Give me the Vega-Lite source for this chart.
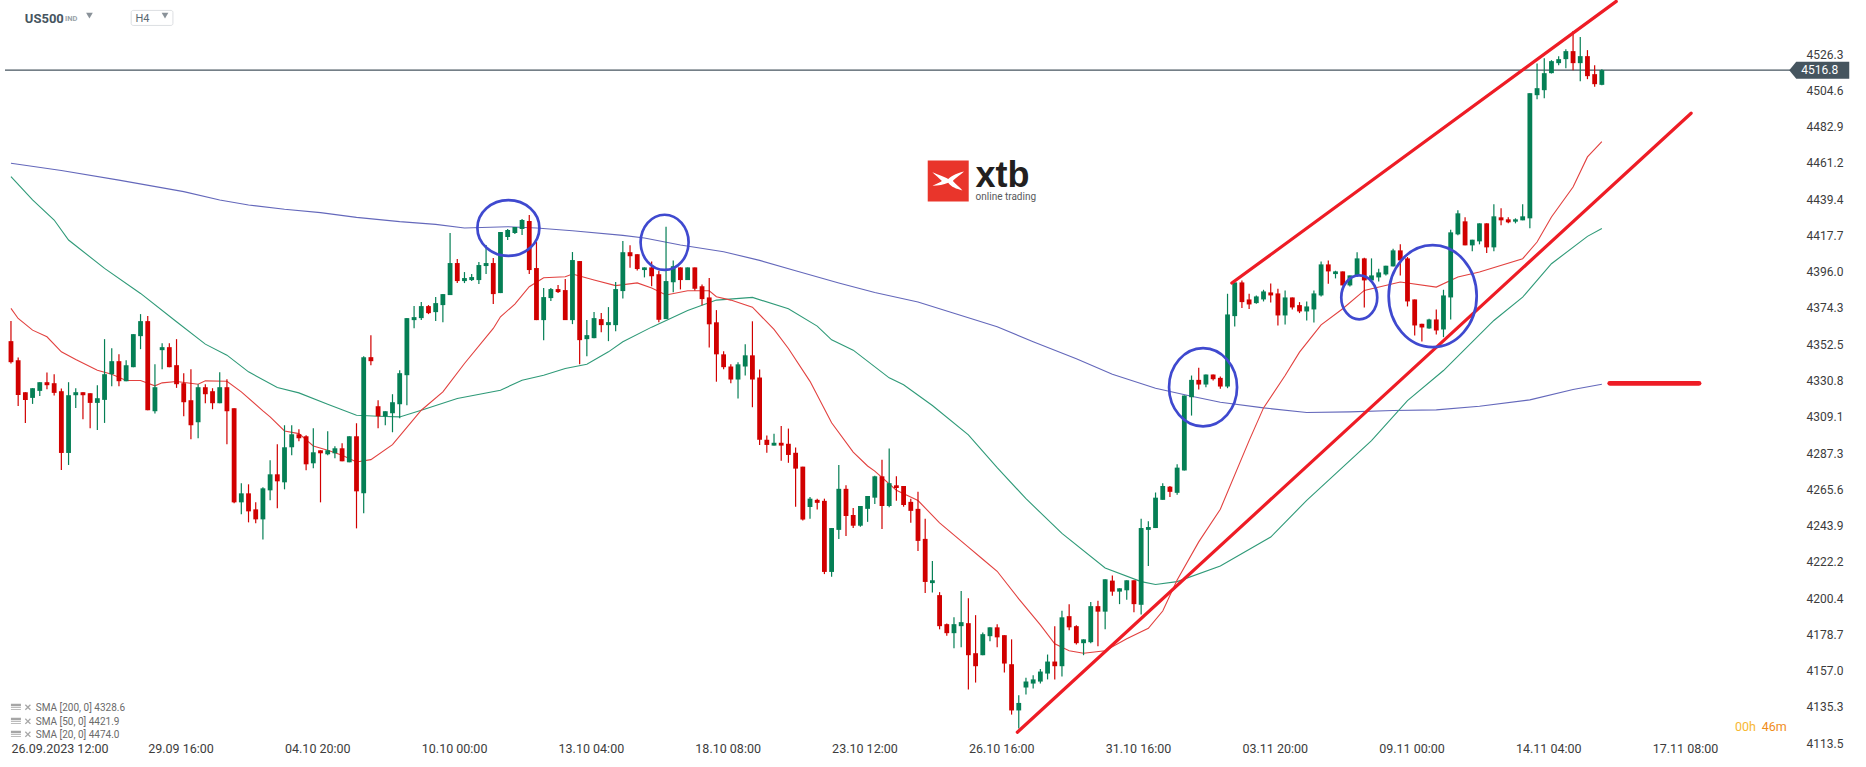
{
"$schema":"https://vega.github.io/schema/vega-lite/v6.json",
"width":1866,"height":767,"padding":0,"autosize":"none","background":"white",
"config":{"view":{"stroke":null},"text":{"font":"Roboto"}},
"datasets":{
"candles":[
{"i":0,"o":4354.4,"h":4366.4,"l":4341,"c":4341.8},{"i":1,"o":4343,"h":4344.6,"l":4315.6,"c":4322.2},{"i":2,"o":4323.8,"h":4323.8,"l":4305.4,"c":4319.2},{"i":3,"o":4320.4,"h":4326.2,"l":4316.8,"c":4326.2},{"i":4,"o":4324.6,"h":4329.8,"l":4321.6,"c":4329.8},{"i":5,"o":4329.8,"h":4335.6,"l":4325.6,"c":4328},{"i":6,"o":4329.2,"h":4334.6,"l":4321.8,"c":4323.4},{"i":7,"o":4324.4,"h":4326,"l":4277.2,"c":4287.4},{"i":8,"o":4287.4,"h":4329.8,"l":4280.2,"c":4322},{"i":9,"o":4322,"h":4326.2,"l":4314.4,"c":4323.8},
{"i":10,"o":4323.8,"h":4323.8,"l":4307.6,"c":4322},{"i":11,"o":4323.2,"h":4323.2,"l":4302.2,"c":4317.4},{"i":12,"o":4317.4,"h":4328,"l":4301.2,"c":4320.2},{"i":13,"o":4319.2,"h":4355.6,"l":4305.4,"c":4334.6},{"i":14,"o":4334.6,"h":4350.2,"l":4327.4,"c":4342.4},{"i":15,"o":4342.4,"h":4346.6,"l":4327.4,"c":4330.4},{"i":16,"o":4330.4,"h":4343,"l":4330.4,"c":4340},{"i":17,"o":4338.8,"h":4358.6,"l":4338.8,"c":4358.6},{"i":18,"o":4357.4,"h":4370.6,"l":4349.6,"c":4366.4},{"i":19,"o":4366.4,"h":4369.4,"l":4313,"c":4313},
{"i":20,"o":4312.4,"h":4340.6,"l":4311,"c":4326.8},{"i":21,"o":4349,"h":4353.2,"l":4337.6,"c":4350.8},{"i":22,"o":4350.8,"h":4353.2,"l":4338.8,"c":4338.8},{"i":23,"o":4340,"h":4355.6,"l":4326.4,"c":4328.6},{"i":24,"o":4329.2,"h":4335.2,"l":4309.4,"c":4317.8},{"i":25,"o":4319,"h":4337.6,"l":4295.6,"c":4304},{"i":26,"o":4305.8,"h":4328.6,"l":4296.2,"c":4326.8},{"i":27,"o":4326.8,"h":4328.6,"l":4317.2,"c":4322.6},{"i":28,"o":4324.4,"h":4326.2,"l":4313.6,"c":4317.2},{"i":29,"o":4317.2,"h":4335.8,"l":4317.2,"c":4326.8},
{"i":30,"o":4326.8,"h":4331.6,"l":4292.6,"c":4312.4},{"i":31,"o":4314.2,"h":4314.2,"l":4257.2,"c":4257.8},{"i":32,"o":4257.8,"h":4269.2,"l":4250.6,"c":4263.2},{"i":33,"o":4263.2,"h":4268.6,"l":4245.8,"c":4252.4},{"i":34,"o":4253.6,"h":4257.8,"l":4245.2,"c":4247.6},{"i":35,"o":4247.6,"h":4266.8,"l":4235.6,"c":4266.2},{"i":36,"o":4265,"h":4283,"l":4259,"c":4274.6},{"i":37,"o":4274.6,"h":4292.6,"l":4254.2,"c":4270.4},{"i":38,"o":4269.8,"h":4304,"l":4265.6,"c":4290.8},{"i":39,"o":4290.8,"h":4304,"l":4286,"c":4298.6},
{"i":40,"o":4298.6,"h":4301.6,"l":4294.4,"c":4296.2},{"i":41,"o":4297.4,"h":4298,"l":4277,"c":4280.6},{"i":42,"o":4281.2,"h":4302.2,"l":4278.2,"c":4287.8},{"i":43,"o":4289,"h":4289,"l":4257.8,"c":4287.2},{"i":44,"o":4286.6,"h":4300.4,"l":4286,"c":4289},{"i":45,"o":4287.2,"h":4291.4,"l":4284.2,"c":4290.2},{"i":46,"o":4290.2,"h":4293.2,"l":4282.4,"c":4282.4},{"i":47,"o":4281.8,"h":4297.4,"l":4281.8,"c":4297.4},{"i":48,"o":4297.4,"h":4305.2,"l":4242.2,"c":4264.4},{"i":49,"o":4263.2,"h":4345.4,"l":4251.2,"c":4344.8},
{"i":50,"o":4344.8,"h":4358,"l":4340,"c":4342.4},{"i":51,"o":4315.4,"h":4319,"l":4302.2,"c":4309.4},{"i":52,"o":4309.4,"h":4312.4,"l":4304,"c":4312.4},{"i":53,"o":4311.2,"h":4322.6,"l":4299.8,"c":4317.8},{"i":54,"o":4316.6,"h":4337,"l":4308.2,"c":4335.2},{"i":55,"o":4334,"h":4368.2,"l":4316,"c":4368.2},{"i":56,"o":4367,"h":4375.4,"l":4362.2,"c":4368.8},{"i":57,"o":4368.2,"h":4377.8,"l":4367,"c":4375.4},{"i":58,"o":4375.4,"h":4376,"l":4370.6,"c":4371.2},{"i":59,"o":4371.8,"h":4380.8,"l":4366.4,"c":4377.2},
{"i":60,"o":4376,"h":4382.6,"l":4365.8,"c":4382.6},{"i":61,"o":4382,"h":4419.2,"l":4382,"c":4401.2},{"i":62,"o":4401.2,"h":4403.6,"l":4389.2,"c":4390.4},{"i":63,"o":4390.4,"h":4395.8,"l":4389.2,"c":4392.2},{"i":64,"o":4391,"h":4394.6,"l":4390.4,"c":4392.8},{"i":65,"o":4391,"h":4401.8,"l":4388.6,"c":4400},{"i":66,"o":4399.4,"h":4412,"l":4394.6,"c":4401.2},{"i":67,"o":4401.2,"h":4404.2,"l":4376.6,"c":4382.6},{"i":68,"o":4383.2,"h":4419.8,"l":4383.2,"c":4419.8},{"i":69,"o":4416.8,"h":4421.6,"l":4415,"c":4421},
{"i":70,"o":4419.2,"h":4422.8,"l":4418.6,"c":4422.8},{"i":71,"o":4421.6,"h":4427.6,"l":4418,"c":4427},{"i":72,"o":4426.4,"h":4430,"l":4394.6,"c":4397},{"i":73,"o":4398.2,"h":4413.8,"l":4367,"c":4367},{"i":74,"o":4367,"h":4386.2,"l":4355,"c":4380.8},{"i":75,"o":4380.2,"h":4386.2,"l":4378.4,"c":4385.6},{"i":76,"o":4385.6,"h":4388,"l":4383.2,"c":4383.8},{"i":77,"o":4385,"h":4391.6,"l":4367,"c":4367},{"i":78,"o":4367,"h":4407.8,"l":4364.6,"c":4403},{"i":79,"o":4402.4,"h":4402.4,"l":4340.6,"c":4355},
{"i":80,"o":4355.6,"h":4367,"l":4345.4,"c":4358},{"i":81,"o":4356.2,"h":4371.8,"l":4356.2,"c":4368.2},{"i":82,"o":4367.6,"h":4371.2,"l":4359.8,"c":4364},{"i":83,"o":4364,"h":4374.8,"l":4354.4,"c":4365.8},{"i":84,"o":4364,"h":4389.8,"l":4360.4,"c":4385.6},{"i":85,"o":4384.4,"h":4414.4,"l":4380,"c":4407.7},{"i":86,"o":4407.7,"h":4411.9,"l":4398.4,"c":4405.3},{"i":87,"o":4406.5,"h":4406.5,"l":4396.8,"c":4397.6},{"i":88,"o":4397,"h":4398.6,"l":4392.6,"c":4398.6},{"i":89,"o":4398.6,"h":4402.2,"l":4387.3,"c":4393.3},
{"i":90,"o":4394.5,"h":4396.6,"l":4365.7,"c":4367.2},{"i":91,"o":4367.6,"h":4422.9,"l":4367.6,"c":4390.4},{"i":92,"o":4389.7,"h":4402.8,"l":4383.7,"c":4399.3},{"i":93,"o":4398.6,"h":4398.6,"l":4385.4,"c":4391},{"i":94,"o":4391,"h":4398.6,"l":4391,"c":4398.6},{"i":95,"o":4398.6,"h":4398.6,"l":4384.8,"c":4385.8},{"i":96,"o":4387.3,"h":4388.3,"l":4375.9,"c":4379.6},{"i":97,"o":4380.6,"h":4392.2,"l":4350.6,"c":4364.5},{"i":98,"o":4365.7,"h":4373,"l":4330.1,"c":4346.5},{"i":99,"o":4346.5,"h":4348.3,"l":4337.6,"c":4338.8},
{"i":100,"o":4339.2,"h":4340.5,"l":4329.1,"c":4331.4},{"i":101,"o":4331.4,"h":4341.7,"l":4320,"c":4340.5},{"i":102,"o":4339.2,"h":4352.5,"l":4333.8,"c":4345.9},{"i":103,"o":4345.9,"h":4366.3,"l":4314.8,"c":4331.4},{"i":104,"o":4332.6,"h":4337.4,"l":4292.2,"c":4295.3},{"i":105,"o":4295.3,"h":4297.8,"l":4287.5,"c":4292.2},{"i":106,"o":4291.8,"h":4298.9,"l":4291.8,"c":4293.5},{"i":107,"o":4293.5,"h":4303.6,"l":4282.7,"c":4291.8},{"i":108,"o":4292.9,"h":4302,"l":4281.5,"c":4286.2},{"i":109,"o":4287.5,"h":4290.6,"l":4255.2,"c":4278},
{"i":110,"o":4279.2,"h":4279.2,"l":4246.9,"c":4247.5},{"i":111,"o":4255,"h":4261,"l":4247.9,"c":4260},{"i":112,"o":4259.3,"h":4260,"l":4253.5,"c":4257.5},{"i":113,"o":4258.7,"h":4260,"l":4214.8,"c":4216.1},{"i":114,"o":4216.1,"h":4242.4,"l":4213.2,"c":4242.4},{"i":115,"o":4241.3,"h":4280.2,"l":4235.9,"c":4265.9},{"i":116,"o":4265.9,"h":4268,"l":4237.6,"c":4249.6},{"i":117,"o":4250.2,"h":4254.4,"l":4242.4,"c":4243.8},{"i":118,"o":4243.8,"h":4255.6,"l":4243.2,"c":4255.6},{"i":119,"o":4253.9,"h":4261.6,"l":4246.1,"c":4261.6},
{"i":120,"o":4260.6,"h":4273.8,"l":4256.8,"c":4273.4},{"i":121,"o":4273.4,"h":4283.3,"l":4241.9,"c":4255.6},{"i":122,"o":4255.6,"h":4290,"l":4254.8,"c":4269.3},{"i":123,"o":4268,"h":4273.4,"l":4258.7,"c":4266.4},{"i":124,"o":4267.6,"h":4267.6,"l":4255.2,"c":4256.2},{"i":125,"o":4258.1,"h":4260,"l":4245.5,"c":4252.7},{"i":126,"o":4253.9,"h":4264.1,"l":4228.7,"c":4234.7},{"i":127,"o":4235.9,"h":4247.9,"l":4203.4,"c":4210.1},{"i":128,"o":4209.4,"h":4222.7,"l":4203.8,"c":4211.1},{"i":129,"o":4202.2,"h":4204,"l":4181.7,"c":4183.6},
{"i":130,"o":4184.8,"h":4185.2,"l":4177.8,"c":4179.4},{"i":131,"o":4179.4,"h":4188.9,"l":4170.3,"c":4184.8},{"i":132,"o":4183.6,"h":4204.7,"l":4170.9,"c":4186},{"i":133,"o":4185.4,"h":4200.3,"l":4145.7,"c":4166.2},{"i":134,"o":4167.4,"h":4190.2,"l":4149.8,"c":4159.6},{"i":135,"o":4166.2,"h":4179.8,"l":4166.2,"c":4178.8},{"i":136,"o":4177.6,"h":4182.9,"l":4174.5,"c":4182.9},{"i":137,"o":4182.9,"h":4184.8,"l":4170.9,"c":4176.9},{"i":138,"o":4178.2,"h":4178.2,"l":4155.8,"c":4161.2},{"i":139,"o":4160.8,"h":4175.7,"l":4130.6,"c":4133.1},
{"i":140,"o":4133.1,"h":4142.2,"l":4122.3,"c":4137.6},{"i":141,"o":4146.9,"h":4152.7,"l":4142.6,"c":4150.4},{"i":142,"o":4149.2,"h":4154.2,"l":4146.3,"c":4151.7},{"i":143,"o":4150.4,"h":4157.9,"l":4149.2,"c":4156.4},{"i":144,"o":4155.2,"h":4166.6,"l":4151.7,"c":4162.4},{"i":145,"o":4162.4,"h":4183.6,"l":4151.7,"c":4159.6},{"i":146,"o":4159.6,"h":4192.9,"l":4153.5,"c":4188.9},{"i":147,"o":4189.6,"h":4196.8,"l":4181.1,"c":4182.9},{"i":148,"o":4183.6,"h":4184.2,"l":4172.6,"c":4173.4},{"i":149,"o":4173.4,"h":4175.7,"l":4166.2,"c":4175.7},
{"i":150,"o":4174,"h":4198.1,"l":4173.4,"c":4195.6},{"i":151,"o":4195.6,"h":4198.9,"l":4171.6,"c":4192.3},{"i":152,"o":4192.3,"h":4211.7,"l":4181.7,"c":4211.7},{"i":153,"o":4210.9,"h":4214,"l":4201.8,"c":4204.3},{"i":154,"o":4204.3,"h":4206.3,"l":4196.8,"c":4206.3},{"i":155,"o":4205.1,"h":4211.1,"l":4199.5,"c":4211.1},{"i":156,"o":4211.1,"h":4211.1,"l":4192,"c":4196.8},{"i":157,"o":4196.4,"h":4247.9,"l":4190.6,"c":4242.4},{"i":158,"o":4241.3,"h":4246.5,"l":4219.6,"c":4243},{"i":159,"o":4242.4,"h":4263.7,"l":4242.4,"c":4260.6},
{"i":160,"o":4259.3,"h":4269.3,"l":4259.3,"c":4267.6},{"i":161,"o":4267.2,"h":4267.6,"l":4261,"c":4264.1},{"i":162,"o":4263.5,"h":4280.6,"l":4262.4,"c":4278.6},{"i":163,"o":4276.9,"h":4321.8,"l":4276.9,"c":4321.8},{"i":164,"o":4320.8,"h":4333.8,"l":4309.8,"c":4331.2},{"i":165,"o":4331.2,"h":4338.4,"l":4325.4,"c":4328.4},{"i":166,"o":4328.4,"h":4334.4,"l":4326.8,"c":4334.4},{"i":167,"o":4334.4,"h":4334.4,"l":4330.8,"c":4331.6},{"i":168,"o":4332.4,"h":4333.2,"l":4325.8,"c":4327.2},{"i":169,"o":4327.2,"h":4382.8,"l":4326.2,"c":4370.4},
{"i":170,"o":4369.4,"h":4389.6,"l":4363.2,"c":4389.6},{"i":171,"o":4389.6,"h":4390.8,"l":4374.2,"c":4377.8},{"i":172,"o":4379.4,"h":4382.8,"l":4373.6,"c":4376.4},{"i":173,"o":4377.2,"h":4381.8,"l":4376.8,"c":4381.2},{"i":174,"o":4379.4,"h":4385.2,"l":4378.2,"c":4384.2},{"i":175,"o":4383.6,"h":4389,"l":4377.6,"c":4381.8},{"i":176,"o":4383,"h":4385.8,"l":4363.8,"c":4369.8},{"i":177,"o":4369.8,"h":4384.8,"l":4364.4,"c":4380.6},{"i":178,"o":4380.6,"h":4380.6,"l":4373.4,"c":4374.6},{"i":179,"o":4376,"h":4377.8,"l":4371.2,"c":4372.2},
{"i":180,"o":4372.2,"h":4378.2,"l":4366.8,"c":4375.2},{"i":181,"o":4373.4,"h":4384.8,"l":4365.6,"c":4383},{"i":182,"o":4381.8,"h":4402.2,"l":4381.2,"c":4400.4},{"i":183,"o":4400.4,"h":4402.8,"l":4388.8,"c":4396.2},{"i":184,"o":4394.6,"h":4396.6,"l":4392,"c":4396.2},{"i":185,"o":4396.2,"h":4396.2,"l":4387.8,"c":4387.8},{"i":186,"o":4387.8,"h":4393.8,"l":4387.2,"c":4393.8},{"i":187,"o":4393.8,"h":4407.6,"l":4392.8,"c":4404},{"i":188,"o":4404,"h":4404.4,"l":4374.6,"c":4390.8},{"i":189,"o":4390.8,"h":4404,"l":4390.8,"c":4393.8},
{"i":190,"o":4392.6,"h":4397.8,"l":4390.2,"c":4395.6},{"i":191,"o":4394.4,"h":4399.6,"l":4393.8,"c":4399.6},{"i":192,"o":4399.2,"h":4409.8,"l":4399.2,"c":4408.8},{"i":193,"o":4408.8,"h":4412.4,"l":4393.8,"c":4402.8},{"i":194,"o":4404,"h":4404.8,"l":4375.2,"c":4378.2},{"i":195,"o":4379.4,"h":4379.4,"l":4357.8,"c":4363.8},{"i":196,"o":4364.8,"h":4364.8,"l":4354.2,"c":4362.6},{"i":197,"o":4362,"h":4367.8,"l":4361.8,"c":4367.4},{"i":198,"o":4367.4,"h":4373.4,"l":4358.4,"c":4360.8},{"i":199,"o":4361.4,"h":4385.2,"l":4356.8,"c":4381.8},
{"i":200,"o":4380.6,"h":4421.2,"l":4367.4,"c":4419.6},{"i":201,"o":4418.4,"h":4432.8,"l":4417.8,"c":4431},{"i":202,"o":4426.2,"h":4428.6,"l":4411.8,"c":4411.8},{"i":203,"o":4411.8,"h":4415.2,"l":4408.2,"c":4415.2},{"i":204,"o":4414.2,"h":4425,"l":4412.4,"c":4425},{"i":205,"o":4425,"h":4425,"l":4407.2,"c":4410.6},{"i":206,"o":4410.6,"h":4436.4,"l":4408.2,"c":4429.2},{"i":207,"o":4428.6,"h":4434,"l":4423.8,"c":4426.8},{"i":208,"o":4427.4,"h":4428.6,"l":4425,"c":4425.6},{"i":209,"o":4426,"h":4428,"l":4425,"c":4427.4},
{"i":210,"o":4426.8,"h":4436.4,"l":4426.8,"c":4429.2},{"i":211,"o":4428,"h":4503,"l":4422,"c":4503},{"i":212,"o":4501.8,"h":4520.8,"l":4499.4,"c":4506},{"i":213,"o":4504.8,"h":4524,"l":4500,"c":4515},{"i":214,"o":4515,"h":4522.8,"l":4514.8,"c":4522.2},{"i":215,"o":4521,"h":4525.2,"l":4519.8,"c":4523.4},{"i":216,"o":4523.4,"h":4529.4,"l":4518,"c":4528.2},{"i":217,"o":4528.2,"h":4540.2,"l":4516.8,"c":4521},{"i":218,"o":4521,"h":4536.6,"l":4510.2,"c":4525.2},{"i":219,"o":4525.2,"h":4528.8,"l":4511.4,"c":4513.2},{"i":220,"o":4514.4,"h":4519.8,"l":4506.8,"c":4508.4},{"i":221,"o":4508,"h":4517.4,"l":4507.8,"c":4516.8}
],
"sma200":[{"i":0,"v":4461},{"i":7,"v":4456.7},{"i":15,"v":4450.9},{"i":24,"v":4444},{"i":29,"v":4439},{"i":33,"v":4436},{"i":38,"v":4433.4},{"i":43,"v":4431.4},{"i":48,"v":4428.6},{"i":54,"v":4426},{"i":59,"v":4424.4},{"i":63,"v":4422.2},{"i":69,"v":4423},{"i":73,"v":4422.2},{"i":78,"v":4420.6},{"i":85,"v":4417.8},{"i":88,"v":4416.2},{"i":93,"v":4412},{"i":99,"v":4408},{"i":104,"v":4402.8},{"i":109,"v":4396.6},{"i":115,"v":4389.3},{"i":120,"v":4383.5},{"i":126,"v":4377.9},{"i":131,"v":4371.1},{"i":137,"v":4363},{"i":142,"v":4354.1},{"i":148,"v":4343.8},{"i":153,"v":4334.5},{"i":159,"v":4326.2},{"i":164,"v":4321.4},{"i":168,"v":4317.8},{"i":174,"v":4314.4},{"i":180,"v":4311.6},{"i":186,"v":4312},{"i":192,"v":4312.8},{"i":198,"v":4313.2},{"i":204,"v":4315.4},{"i":211,"v":4319.2},{"i":217,"v":4325.4},{"i":221,"v":4328.6}],
"sma50":[{"i":0,"v":4453},{"i":3,"v":4439},{"i":6,"v":4427},{"i":8,"v":4415},{"i":13,"v":4398},{"i":18,"v":4383},{"i":23,"v":4366},{"i":27,"v":4352.6},{"i":30,"v":4346},{"i":33,"v":4336},{"i":37,"v":4326.6},{"i":40,"v":4323.4},{"i":44,"v":4316.6},{"i":48,"v":4310},{"i":51,"v":4309.4},{"i":54,"v":4309},{"i":57,"v":4313},{"i":62,"v":4320},{"i":68,"v":4325},{"i":71,"v":4331},{"i":74,"v":4334},{"i":77,"v":4338},{"i":80,"v":4340.6},{"i":83,"v":4348},{"i":85,"v":4354},{"i":89,"v":4362.8},{"i":94,"v":4372.8},{"i":98,"v":4379},{"i":103,"v":4380.6},{"i":108,"v":4373.8},{"i":112,"v":4363.4},{"i":114,"v":4355.2},{"i":117,"v":4349},{"i":122,"v":4332.4},{"i":124,"v":4328.3},{"i":128,"v":4315.8},{"i":133,"v":4298.2},{"i":137,"v":4278.6},{"i":141,"v":4260},{"i":146,"v":4239.2},{"i":152,"v":4218.5},{"i":157,"v":4210.3},{"i":159,"v":4208.6},{"i":162,"v":4210.3},{"i":168,"v":4219.6},{"i":175,"v":4237},{"i":180,"v":4259},{"i":189,"v":4294.8},{"i":194,"v":4318.8},{"i":199,"v":4336.8},{"i":206,"v":4366.8},{"i":210,"v":4380.8},{"i":214,"v":4400.8},{"i":219,"v":4417.2},{"i":221,"v":4421.9}],
"sma20":[{"i":0,"v":4374},{"i":1,"v":4368},{"i":3,"v":4361},{"i":5,"v":4357},{"i":7,"v":4348},{"i":9,"v":4343.4},{"i":12,"v":4337},{"i":14,"v":4334.6},{"i":16,"v":4330.8},{"i":18,"v":4330.8},{"i":20,"v":4327.6},{"i":21,"v":4329.4},{"i":23,"v":4330.2},{"i":26,"v":4328.6},{"i":27,"v":4330.6},{"i":30,"v":4330.4},{"i":32,"v":4324},{"i":35,"v":4312.6},{"i":36,"v":4309},{"i":38,"v":4300.6},{"i":40,"v":4299},{"i":42,"v":4291.6},{"i":44,"v":4289},{"i":46,"v":4286},{"i":48,"v":4282},{"i":50,"v":4283.4},{"i":53,"v":4292.4},{"i":57,"v":4313},{"i":60,"v":4324},{"i":63,"v":4341},{"i":67,"v":4362},{"i":68,"v":4369},{"i":70,"v":4376.6},{"i":72,"v":4387},{"i":74,"v":4392.4},{"i":77,"v":4393},{"i":78,"v":4394.6},{"i":81,"v":4391},{"i":84,"v":4387.7},{"i":87,"v":4389.3},{"i":89,"v":4386.2},{"i":91,"v":4382.1},{"i":94,"v":4384.6},{"i":97,"v":4384.6},{"i":98,"v":4381},{"i":100,"v":4379},{"i":103,"v":4374.8},{"i":106,"v":4361.4},{"i":108,"v":4350},{"i":111,"v":4330.3},{"i":114,"v":4305.5},{"i":117,"v":4287.9},{"i":119,"v":4279.6},{"i":120,"v":4276.5},{"i":123,"v":4265.1},{"i":126,"v":4258.9},{"i":129,"v":4245.5},{"i":133,"v":4231},{"i":135,"v":4223.7},{"i":137,"v":4216.5},{"i":140,"v":4199.9},{"i":143,"v":4184.4},{"i":145,"v":4173},{"i":147,"v":4168.9},{"i":149,"v":4167.4},{"i":152,"v":4168.9},{"i":155,"v":4176.1},{"i":158,"v":4182.3},{"i":160,"v":4192.7},{"i":162,"v":4211.3},{"i":165,"v":4234.1},{"i":168,"v":4253.7},{"i":172,"v":4294.8},{"i":174,"v":4314.4},{"i":177,"v":4333.8},{"i":179,"v":4347.8},{"i":182,"v":4364.2},{"i":185,"v":4373.8},{"i":188,"v":4384.8},{"i":193,"v":4389.8},{"i":198,"v":4386.8},{"i":201,"v":4392.8},{"i":204,"v":4395.8},{"i":210,"v":4403.8},{"i":212,"v":4413.8},{"i":214,"v":4428.8},{"i":217,"v":4446.8},{"i":219,"v":4464.8},{"i":221,"v":4474}]
},
"encoding":{
"x":{"field":"i","type":"quantitative","scale":{"domain":[-0.829,257],"nice":false,"zero":false},
"axis":{"title":null,"orient":"bottom","offset":-25,"grid":false,"domain":false,"ticks":false,"values":[0,19,38,57,76,95,114,133,152,171,190,209,228],"labelExpr":"['26.09.2023  12:00','29.09  16:00','04.10  20:00','10.10  00:00','13.10  04:00','18.10  08:00','23.10  12:00','26.10  16:00','31.10  16:00','03.11  20:00','09.11  00:00','14.11  04:00','17.11  08:00'][datum.value/19]","labelAlign":"left","labelBaseline":"middle","labelPadding":6,"labelFont":"Roboto","labelFontSize":12.5,"labelColor":"#3c3c3c","labelOverlap":false,"labelBound":false,"labelFlush":false}},
"y":{"field":"v","type":"quantitative","title":null,"scale":{"domain":[4099.2,4558.84],"nice":false,"zero":false},
"axis":{"title":null,"orient":"right","offset":-60,"grid":false,"domain":false,"ticks":false,"values":[4526.3,4504.6,4482.9,4461.2,4439.4,4417.7,4396.0,4374.3,4352.5,4330.8,4309.1,4287.3,4265.6,4243.9,4222.2,4200.4,4178.7,4157.0,4135.3,4113.5],"format":".1f","labelFont":"Roboto","labelFontSize":12,"labelColor":"#3c3c3c","labelPadding":0,"labelOverlap":false,"labelBound":false,"labelFlush":false}}
},
"layer":[
{"data":{"values":[{"i":-0.829,"v":4516.8},{"i":247.2,"v":4516.8}]},"mark":{"type":"line","stroke":"#46555f","strokeWidth":1.2}},
{"data":{"name":"sma200"},"mark":{"type":"line","stroke":"#6468bb","strokeWidth":1.1}},
{"data":{"name":"sma50"},"mark":{"type":"line","stroke":"#2f9a78","strokeWidth":1.1}},
{"data":{"name":"sma20"},"mark":{"type":"line","stroke":"#e2413f","strokeWidth":1.1}},
{"data":{"name":"candles"},"mark":{"type":"rule","strokeWidth":1.2},
"encoding":{"y":{"field":"l","type":"quantitative","title":null},"y2":{"field":"h"},"color":{"condition":{"test":"datum.c>=datum.o","value":"#057f55"},"value":"#d10000"}}},
{"data":{"name":"candles"},"mark":{"type":"bar","size":4.8},
"encoding":{"y":{"field":"o","type":"quantitative","title":null},"y2":{"field":"c"},"color":{"condition":{"test":"datum.c>=datum.o","value":"#057f55"},"value":"#d10000"}}},
{"data":{"values":[{"id":"a","i":139.8,"v":4120},{"id":"a","i":233.4,"v":4491},{"id":"b","i":169.6,"v":4389.2},{"id":"b","i":223,"v":4558}]},
"mark":{"type":"line","stroke":"#ee1c25","strokeWidth":3.2,"strokeCap":"round"},"encoding":{"detail":{"field":"id"}}},
{"data":{"values":[{"i":222.1,"v":4329.1},{"i":234.5,"v":4329.1}]},"mark":{"type":"line","stroke":"#ee1c25","strokeWidth":4.8,"strokeCap":"round"}},
{"data":{"values":[{"i":69.1,"v":4422.2}]},"mark":{"type":"point","filled":false,"stroke":"#3f49cf","strokeWidth":2.7,"opacity":1,"size":3844,"shape":"M-1,0 C-1,-.5 -.55,-.9 0,-.9 C.55,-.9 1,-.5 1,0 C1,.5 .55,.9 0,.9 C-.55,.9 -1,.5 -1,0 Z"}},
{"data":{"values":[{"i":90.8,"v":4413.6}]},"mark":{"type":"point","filled":false,"stroke":"#3f49cf","strokeWidth":2.7,"opacity":1,"size":2304,"shape":"M-1,0 C-1,-.63 -.55,-1.15 0,-1.15 C.55,-1.15 1,-.63 1,0 C1,.63 .55,1.15 0,1.15 C-.55,1.15 -1,.63 -1,0 Z"}},
{"data":{"values":[{"i":165.6,"v":4326.8}]},"mark":{"type":"point","filled":false,"stroke":"#3f49cf","strokeWidth":2.7,"opacity":1,"size":4624,"shape":"M-1,0 C-1,-.63 -.55,-1.15 0,-1.15 C.55,-1.15 1,-.63 1,0 C1,.63 .55,1.15 0,1.15 C-.55,1.15 -1,.63 -1,0 Z"}},
{"data":{"values":[{"i":187.3,"v":4380.6}]},"mark":{"type":"point","filled":false,"stroke":"#3f49cf","strokeWidth":2.7,"opacity":1,"size":1296,"shape":"M-1,0 C-1,-.67 -.55,-1.22 0,-1.22 C.55,-1.22 1,-.67 1,0 C1,.67 .55,1.22 0,1.22 C-.55,1.22 -1,.67 -1,0 Z"}},
{"data":{"values":[{"i":197.5,"v":4381.4}]},"mark":{"type":"point","filled":false,"stroke":"#3f49cf","strokeWidth":2.7,"opacity":1,"size":7744,"shape":"M-1,0 C-1,-.64 -.55,-1.16 0,-1.16 C.55,-1.16 1,-.64 1,0 C1,.64 .55,1.16 0,1.16 C-.55,1.16 -1,.64 -1,0 Z"}},
{"data":{"values":[{"i":130.2,"v":4450.4}]},"mark":{"type":"square","color":"#e9352b","size":1681,"opacity":1}},
{"data":{"values":[{"i":130.2,"v":4450.4}]},"mark":{"type":"point","filled":true,"color":"white","opacity":1,"size":1000,"shape":"M-1,-.55 C-.55,-.35 -.3,-.3 0,-.12 C.3,-.4 .6,-.5 1,-.6 C.65,-.3 .4,-.15 .3,0 C.45,.2 .7,.35 .9,.6 C.5,.5 .2,.4 0,.12 C-.3,.25 -.6,.3 -1,.3 C-.7,.15 -.5,.1 -.4,0 C-.6,-.2 -.8,-.35 -1,-.55 Z"}},
{"data":{"values":[{"i":134,"v":4446.8,"t":"xtb"}]},"mark":{"type":"text","align":"left","baseline":"alphabetic","font":"Liberation Sans","fontWeight":"bold","fontSize":36,"color":"#231f20"},"encoding":{"text":{"field":"t"}}},
{"data":{"values":[{"i":134,"v":4439,"t":"online trading"}]},"mark":{"type":"text","align":"left","baseline":"alphabetic","fontSize":10,"color":"#58595b"},"encoding":{"text":{"field":"t"}}},
{"data":{"values":[{"i":16.7,"i2":22.5,"v":4552.6,"v2":4543.6}]},"mark":{"type":"rect","fill":"white","stroke":"#dcdfe2","strokeWidth":1,"cornerRadius":2},"encoding":{"x2":{"field":"i2"},"y2":{"field":"v2"}}},
{"data":{"values":[{"i":1.93,"v":4547.5,"t":"US500"}]},"mark":{"type":"text","align":"left","baseline":"middle","fontWeight":"bold","fontSize":13,"color":"#46555f"},"encoding":{"text":{"field":"t"}}},
{"data":{"values":[{"i":7.5,"v":4547.5,"t":"IND"}]},"mark":{"type":"text","align":"left","baseline":"middle","fontWeight":"bold","fontSize":7.5,"color":"#9aa3a9"},"encoding":{"text":{"field":"t"}}},
{"data":{"values":[{"i":17.3,"v":4547.5,"t":"H4"}]},"mark":{"type":"text","align":"left","baseline":"middle","fontSize":11,"color":"#5a6872"},"encoding":{"text":{"field":"t"}}},
{"data":{"values":[{"i":10.9,"v":4549.5},{"i":21.4,"v":4549.5}]},"mark":{"type":"point","filled":true,"shape":"triangle-down","size":45,"color":"#8a9299","opacity":1}},
{"data":{"values":[{"i":3.45,"v":4134.5,"t":"SMA  [200,  0]  4328.6"},{"i":3.45,"v":4126.1,"t":"SMA  [50,  0]  4421.9"},{"i":3.45,"v":4118.3,"t":"SMA  [20,  0]  4474.0"}]},"mark":{"type":"text","align":"left","baseline":"middle","fontSize":10,"color":"#6b6b6b"},"encoding":{"text":{"field":"t"}}},
{"data":{"values":[{"i":0.69,"v":4135},{"i":0.69,"v":4126.6},{"i":0.69,"v":4118.8}]},"mark":{"type":"point","filled":true,"color":"#a6a6a6","opacity":1,"size":100,"shape":"M-1,-.7 L1,-.7 L1,-.2 L-1,-.2 Z M-1,0 L1,0 L1,.15 L-1,.15 Z M-1,.4 L1,.4 L1,.55 L-1,.55 Z"}},
{"data":{"values":[{"i":2.35,"v":4135},{"i":2.35,"v":4126.6},{"i":2.35,"v":4118.8}]},"mark":{"type":"point","filled":true,"color":"#a6a6a6","opacity":1,"size":36,"shape":"M-1,-.7 L-.7,-1 L0,-.3 L.7,-1 L1,-.7 L.3,0 L1,.7 L.7,1 L0,.3 L-.7,1 L-1,.7 L-.3,0 Z"}},
{"data":{"values":[{"i":251.2,"v":4516.8}]},"mark":{"type":"point","filled":true,"color":"#46555f","opacity":1,"size":3600,"shape":"M-1,0 L-.767,-.283 L1,-.283 L1,.283 L-.767,.283 Z"}},
{"data":{"values":[{"i":248.7,"v":4516.8,"t":"4516.8"}]},"mark":{"type":"text","align":"left","baseline":"middle","fontSize":12,"color":"white"},"encoding":{"text":{"field":"t"}}},
{"data":{"values":[{"i":239.5,"v":4123.1,"t":"00h"}]},"mark":{"type":"text","align":"left","baseline":"middle","fontSize":12.5,"color":"#f7b733"},"encoding":{"text":{"field":"t"}}},
{"data":{"values":[{"i":243.2,"v":4123.1,"t":"46m"}]},"mark":{"type":"text","align":"left","baseline":"middle","fontSize":12.5,"color":"#f08c1a"},"encoding":{"text":{"field":"t"}}}
]
}
